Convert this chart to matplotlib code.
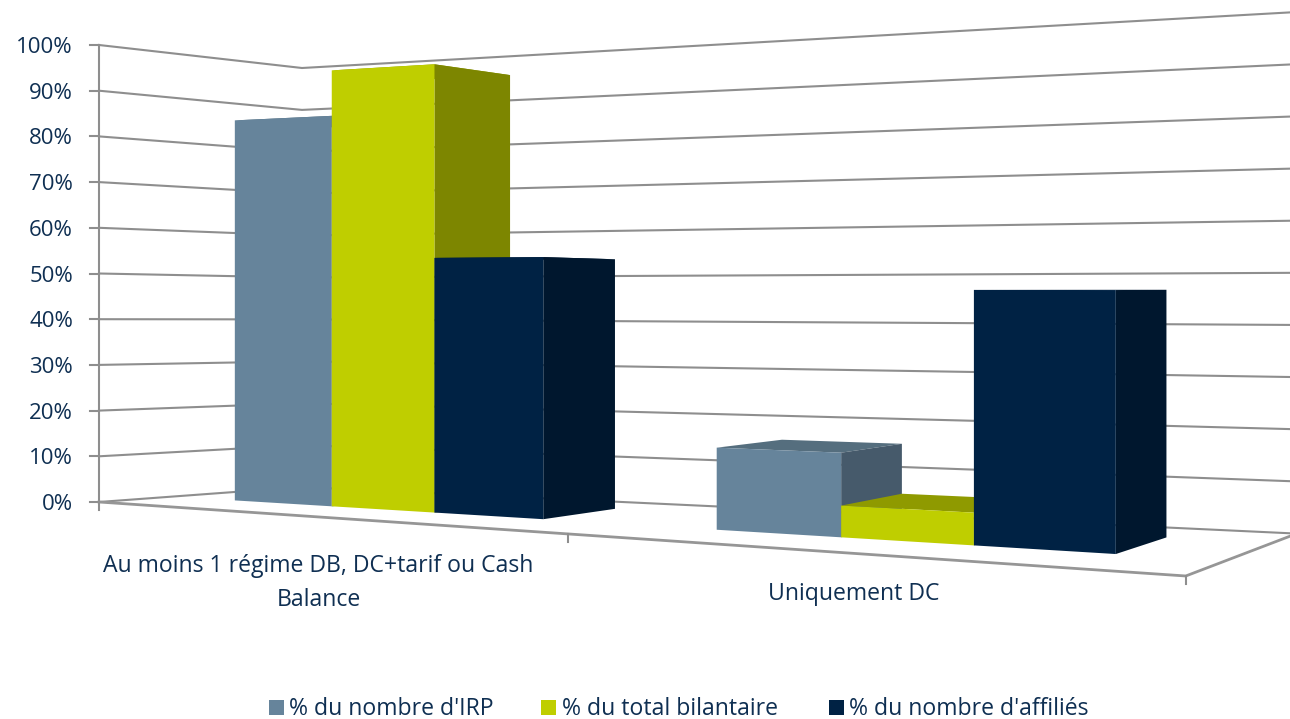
import numpy as np
import matplotlib
matplotlib.use("Agg")
import matplotlib.pyplot as plt
from matplotlib.patches import Polygon, Rectangle

plt.rcParams['font.family'] = ['Open Sans', 'DejaVu Sans']

categories = ["Au moins 1 régime DB, DC+tarif ou Cash\nBalance", "Uniquement DC"]
series = ["% du nombre d'IRP", "% du total bilantaire", "% du nombre d'affiliés"]
irp = [84.2, 16]
bilan = [94, 6]
affilies = [53.4, 46.8]
yticks = [0, 10, 20, 30, 40, 50, 60, 70, 80, 90, 100]

FRONT_COL = ['#66849B', '#BFCE00', '#002244']
SIDE_COL = ['#465A6B', '#7D8600', '#00172E']
TOP_COL = ['#556E7E', '#8F9A00', '#001A36']
GRID = '#8E8E8E'
TXT = '#0F2F52'

# Projection of the pseudo-3D chart box onto the picture
G = -0.241


def phi(c):
    s = c / 2.0
    return (((99 + 801 * s) / (1 + G * s)) - 99) / 1087.0


def proj(c, t, v):
    p = phi(c)
    xf, xb = 99 + 1087 * p, 302 + 995 * p
    yf, yb = 502 + 74 * p, 487 + 46.6 * p
    hf, hb = 457 + 153 * p, 419 + 102.6 * p
    x = xf + (xb - xf) * t
    y0 = yf + (yb - yf) * t
    h = hf + (hb - hf) * t
    return x, y0 - h * v / 100.0


fig = plt.figure(figsize=(12.9, 7.19), dpi=100)
ax = fig.add_axes([0, 0, 1, 1])
ax.set_xlim(0, 1290)
ax.set_ylim(719, 0)
ax.axis('off')

# gridlines: left wall and back wall
for v in yticks:
    pts = [proj(0, 0, v), proj(0, 1, v), proj(2, 1, v)]
    ax.plot(*zip(*pts), color=GRID, lw=1.5, solid_joinstyle='round', zorder=1)
    x0, y0 = proj(0, 0, v)
    ax.plot([x0 - 9, x0], [y0, y0], color=GRID, lw=1.5, zorder=1)
    ax.text(x0 - 26, y0 + 2.5, f"{v}%", ha='right', va='center', fontsize=16, color=TXT)
ax.plot(*zip(proj(0, 0, 0), proj(0, 0, 100)), color=GRID, lw=1.5, zorder=1)

# floor edges and ticks
ax.plot(*zip(proj(0, 0, 0), proj(2, 0, 0), proj(2, 1, 0)), color='#969696', lw=2, zorder=1)
for c in range(3):
    x, y = proj(c, 0, 0)
    ax.plot([x, x], [y, y + 8], color=GRID, lw=1.5, zorder=1)

# bars
GAP = [0.154, 0.17]
BW = [0.227, 0.2225]
T0, T1 = 0.36, 0.78
values = [irp, bilan, affilies]
z = 2
for ci in range(len(categories)):
    for si, vals in enumerate(values):
        v = vals[ci]
        c0 = ci + GAP[ci] + si * BW[ci]
        c1 = c0 + BW[ci]
        top = [proj(c0, T0, v), proj(c1, T0, v), proj(c1, T1, v), proj(c0, T1, v)]
        side = [proj(c1, T0, 0), proj(c1, T1, 0), proj(c1, T1, v), proj(c1, T0, v)]
        front = [proj(c0, T0, 0), proj(c1, T0, 0), proj(c1, T0, v), proj(c0, T0, v)]
        ax.add_patch(Polygon(top, closed=True, fc=TOP_COL[si], ec='none', zorder=z))
        ax.add_patch(Polygon(side, closed=True, fc=SIDE_COL[si], ec='none', zorder=z + 1))
        ax.add_patch(Polygon(front, closed=True, fc=FRONT_COL[si], ec='none', zorder=z + 2))
        z += 3

# category labels
ax.text(318.5, 583, categories[0], ha='center', va='center', fontsize=16.6, color=TXT,
        linespacing=1.6, multialignment='center')
ax.text(854, 594, categories[1], ha='center', va='center', fontsize=16.6, color=TXT)

# legend
leg_sw = [269, 541, 829]
leg_tx = [289, 562, 849]
for si, name in enumerate(series):
    ax.add_patch(Rectangle((leg_sw[si], 700), 15, 15, fc=FRONT_COL[si], ec='none', zorder=50))
    ax.text(leg_tx[si], 709, name, ha='left', va='center', fontsize=16.6, color=TXT)

fig.savefig('out.png', dpi=100)
